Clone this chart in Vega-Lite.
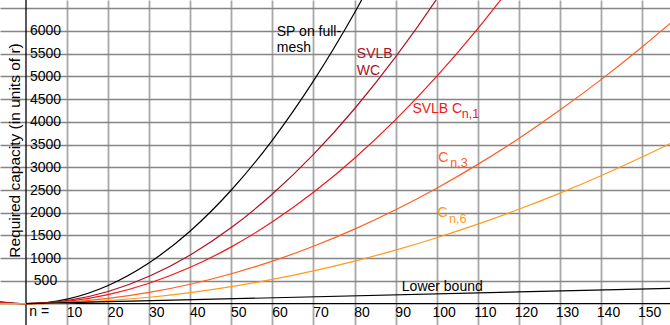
{
  "$schema": "https://vega.github.io/schema/vega-lite/v6.json",
  "width": 670,
  "height": 325,
  "autosize": {"type": "none"},
  "padding": 0,
  "background": "white",
  "config": {
    "view": {"stroke": null},
    "font": "Liberation Sans",
    "text": {"font": "Liberation Sans"}
  },
  "datasets": {
    "curves": [
      {"series": "SP", "n": -6.5, "v": 42}, {"series": "SP", "n": 0, "v": 0}, {"series": "SP", "n": 10, "v": 100}, {"series": "SP", "n": 20, "v": 400}, {"series": "SP", "n": 30, "v": 900}, {"series": "SP", "n": 40, "v": 1600}, {"series": "SP", "n": 50, "v": 2500}, {"series": "SP", "n": 60, "v": 3600}, {"series": "SP", "n": 70, "v": 4900}, {"series": "SP", "n": 80, "v": 6400}, {"series": "SP", "n": 90, "v": 8100},
      {"series": "WC", "n": -6.5, "v": 28}, {"series": "WC", "n": 0, "v": 0}, {"series": "WC", "n": 10, "v": 67}, {"series": "WC", "n": 20, "v": 268}, {"series": "WC", "n": 30, "v": 603}, {"series": "WC", "n": 40, "v": 1072}, {"series": "WC", "n": 50, "v": 1675}, {"series": "WC", "n": 60, "v": 2412}, {"series": "WC", "n": 70, "v": 3283}, {"series": "WC", "n": 80, "v": 4288}, {"series": "WC", "n": 90, "v": 5427}, {"series": "WC", "n": 100, "v": 6700}, {"series": "WC", "n": 110, "v": 8107},
      {"series": "C1", "n": -6.5, "v": 21}, {"series": "C1", "n": 0, "v": 0}, {"series": "C1", "n": 10, "v": 50}, {"series": "C1", "n": 20, "v": 200}, {"series": "C1", "n": 30, "v": 450}, {"series": "C1", "n": 40, "v": 800}, {"series": "C1", "n": 50, "v": 1250}, {"series": "C1", "n": 60, "v": 1800}, {"series": "C1", "n": 70, "v": 2450}, {"series": "C1", "n": 80, "v": 3200}, {"series": "C1", "n": 90, "v": 4050}, {"series": "C1", "n": 100, "v": 5000}, {"series": "C1", "n": 110, "v": 6050}, {"series": "C1", "n": 120, "v": 7200},
      {"series": "C3", "n": -6.5, "v": 5}, {"series": "C3", "n": 0, "v": 0}, {"series": "C3", "n": 10, "v": 33}, {"series": "C3", "n": 20, "v": 116}, {"series": "C3", "n": 30, "v": 248}, {"series": "C3", "n": 40, "v": 428}, {"series": "C3", "n": 50, "v": 658}, {"series": "C3", "n": 60, "v": 936}, {"series": "C3", "n": 70, "v": 1264}, {"series": "C3", "n": 80, "v": 1640}, {"series": "C3", "n": 90, "v": 2066}, {"series": "C3", "n": 100, "v": 2540}, {"series": "C3", "n": 110, "v": 3064}, {"series": "C3", "n": 120, "v": 3636}, {"series": "C3", "n": 130, "v": 4258}, {"series": "C3", "n": 140, "v": 4928}, {"series": "C3", "n": 150, "v": 5648}, {"series": "C3", "n": 157, "v": 6180},
      {"series": "C6", "n": -6.5, "v": 3}, {"series": "C6", "n": 0, "v": 0}, {"series": "C6", "n": 10, "v": 19}, {"series": "C6", "n": 20, "v": 66}, {"series": "C6", "n": 30, "v": 141}, {"series": "C6", "n": 40, "v": 244}, {"series": "C6", "n": 50, "v": 375}, {"series": "C6", "n": 60, "v": 534}, {"series": "C6", "n": 70, "v": 721}, {"series": "C6", "n": 80, "v": 936}, {"series": "C6", "n": 90, "v": 1179}, {"series": "C6", "n": 100, "v": 1450}, {"series": "C6", "n": 110, "v": 1749}, {"series": "C6", "n": 120, "v": 2076}, {"series": "C6", "n": 130, "v": 2431}, {"series": "C6", "n": 140, "v": 2814}, {"series": "C6", "n": 150, "v": 3225}, {"series": "C6", "n": 157, "v": 3529},
      {"series": "LB", "n": 0, "v": 0}, {"series": "LB", "n": 157, "v": 338}
    ],
    "labels": [
      {"series": "SP", "n": 61.06, "v": 5895, "text": "SP on full-"},
      {"series": "SP", "n": 61.06, "v": 5543, "text": "mesh"},
      {"series": "WC", "n": 80.54, "v": 5398, "text": "SVLB"},
      {"series": "WC", "n": 80.54, "v": 5031, "text": "WC"},
      {"series": "C1", "n": 94.08, "v": 4201, "text": "SVLB C"},
      {"series": "C3", "n": 100.4, "v": 3124, "text": "C"},
      {"series": "C6", "n": 100.2, "v": 1901, "text": "C"},
      {"series": "LB", "n": 91.5, "v": 286, "text": "Lower bound"},
      {"series": "axis", "n": 0.8, "v": -264, "text": "n ="}
    ],
    "subs": [
      {"series": "C1", "n": 106.1, "v": 4078, "text": "n,1"},
      {"series": "C3", "n": 103.3, "v": 3014, "text": "n,3"},
      {"series": "C6", "n": 103.0, "v": 1775, "text": "n,6"}
    ]
  },
  "encoding": {
    "x": {
      "field": "n", "type": "quantitative",
      "scale": {"domain": [-6.33, 156.8], "nice": false, "zero": false},
      "axis": {
        "values": [10, 20, 30, 40, 50, 60, 70, 80, 90, 100, 110, 120, 130, 140, 150],
        "title": null, "domain": false, "ticks": false, "tickSize": 0,
        "grid": true, "gridColor": "#a8a8a8", "gridWidth": 1.8,
        "labelFont": "Liberation Sans", "labelFontSize": 14, "labelColor": "#000",
        "labelAlign": "center", "labelBaseline": "alphabetic", "labelPadding": -8.3, "labelOffset": 7,
        "labelFlush": false, "labelOverlap": false
      }
    },
    "y": {
      "field": "v", "type": "quantitative",
      "scale": {"domain": [-469, 6680], "nice": false, "zero": false},
      "axis": {
        "values": [500, 1000, 1500, 2000, 2500, 3000, 3500, 4000, 4500, 5000, 5500, 6000, 6500],
        "labelExpr": "datum.value > 6000 ? '' : datum.label",
        "format": "d",
        "domain": false, "ticks": false, "tickSize": 0,
        "grid": true, "gridColor": "#858585", "gridWidth": 1.4,
        "labelFont": "Liberation Sans", "labelFontSize": 14, "labelColor": "#000",
        "labelAlign": "center", "labelBaseline": "middle", "labelPadding": -45,
        "labelFlush": false, "labelOverlap": false,
        "title": "Required capacity (in units of r)",
        "titleFont": "Liberation Sans", "titleFontSize": 15.5, "titleFontWeight": "normal", "titleColor": "#000",
        "titleX": 14, "titleY": 150, "titleAngle": -90, "titleAlign": "center", "titleBaseline": "middle"
      }
    }
  },
  "layer": [
    {
      "data": {"values": [{"n": 0}]},
      "mark": {"type": "rule", "color": "#000", "strokeWidth": 1.3},
      "encoding": {"y": null}
    },
    {
      "data": {"values": [{"v": 0}]},
      "mark": {"type": "rule", "color": "#000", "strokeWidth": 1.3},
      "encoding": {"x": null}
    },
    {
      "data": {"name": "curves"},
      "mark": {"type": "line", "strokeWidth": 1.2, "interpolate": "monotone", "clip": true},
      "encoding": {
        "color": {
          "field": "series", "type": "nominal", "legend": null,
          "scale": {"domain": ["SP", "WC", "C1", "C3", "C6", "LB", "axis"], "range": ["#000000", "#ad1125", "#f21818", "#ff5f1f", "#ff9a1a", "#000000", "#000000"]}
        }
      }
    },
    {
      "data": {"name": "labels"},
      "mark": {"type": "text", "align": "left", "baseline": "alphabetic", "fontSize": 14, "font": "Liberation Sans"},
      "encoding": {
        "text": {"field": "text"},
        "color": {"field": "series", "type": "nominal", "legend": null}
      }
    },
    {
      "data": {"name": "subs"},
      "mark": {"type": "text", "align": "left", "baseline": "alphabetic", "fontSize": 12.5, "font": "Liberation Sans"},
      "encoding": {
        "text": {"field": "text"},
        "color": {"field": "series", "type": "nominal", "legend": null}
      }
    }
  ]
}
